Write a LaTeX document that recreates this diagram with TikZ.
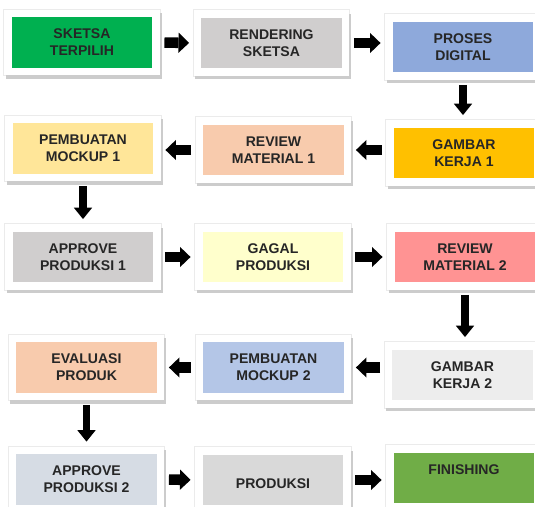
\documentclass[tikz,border=0pt]{standalone}
\usepackage{fontspec}
\setmainfont{Liberation Sans}
\usetikzlibrary{arrows.meta,positioning,backgrounds}
\definecolor{hijau}{HTML}{00B050}
\definecolor{abu}{HTML}{D0CECE}
\definecolor{biru}{HTML}{8EA9DB}
\definecolor{oranye}{HTML}{FFC000}
\definecolor{salem}{HTML}{F8CBAD}
\definecolor{kuning}{HTML}{FFE699}
\definecolor{krem}{HTML}{FFFFCC}
\definecolor{merah}{HTML}{FF9393}
\definecolor{abumuda}{HTML}{EDEDED}
\definecolor{birumuda}{HTML}{B4C6E7}
\definecolor{abubiru}{HTML}{D6DCE4}
\definecolor{abudua}{HTML}{D9D9D9}
\definecolor{hijaudua}{HTML}{70AD47}

\begin{document}
\begin{tikzpicture}[
		x=0.02cm, y=-0.02cm,
		font=\bfseries\fontsize{8}{9.6}\selectfont,
		kotak/.style={rectangle, align=center, text=black!85, inner sep=0pt,
			minimum width=2.96cm, minimum height=1.16cm,
			draw=white, line width=4.5pt},
		panah/.style={line width=6pt, -{Triangle[length=6pt,width=11.5pt,line width=0pt]}, shorten <=0.09cm, shorten >=0.09cm},
		panahv/.style={line width=4.5pt, -{Triangle[length=6.5pt,width=10.5pt,line width=0pt]}, shorten <=0.1cm, shorten >=0.1cm}
		]
		\useasboundingbox (0,0) rectangle (535,507);
		
		% baris 1
		\node[kotak, fill=hijau] (sketsa) at (82,42.5) {SKETSA\\TERPILIH};
		\node[kotak, fill=abu] (rendering) at (271.5,43) {RENDERING\\SKETSA};
		\node[kotak, fill=biru] (digital) at (463,47) {PROSES\\DIGITAL};
		
		% baris 2
		\node[kotak, fill=kuning] (mockup1) at (83,148.5) {PEMBUATAN\\MOCKUP 1};
		\node[kotak, fill=salem] (review1) at (273.5,150) {REVIEW\\MATERIAL 1};
		\node[kotak, fill=oranye] (kerja1) at (464,153) {GAMBAR\\KERJA 1};
		
		% baris 3
		\node[kotak, fill=abu] (approve1) at (83,257) {APPROVE\\PRODUKSI 1};
		\node[kotak, fill=krem] (gagal) at (273,257) {GAGAL\\PRODUKSI};
		\node[kotak, fill=merah] (review2) at (465,257) {REVIEW\\MATERIAL 2};
		
		% baris 4
		\node[kotak, fill=salem] (evaluasi) at (86.5,367.5) {EVALUASI\\PRODUK};
		\node[kotak, fill=birumuda] (mockup2) at (273.5,367.5) {PEMBUATAN\\MOCKUP 2};
		\node[kotak, fill=abumuda] (kerja2) at (462.5,375) {GAMBAR\\KERJA 2};
		
		% baris 5
		\node[kotak, fill=abubiru] (approve2) at (86.5,479.5) {APPROVE\\PRODUKSI 2};
		\node[kotak, fill=abudua] (produksi) at (273,480) {\mbox{}\\PRODUKSI};
		\node[kotak, fill=hijaudua] (finishing) at (464,478) {FINISHING\\\mbox{}};
		
		% bayangan bingkai
		\begin{scope}[on background layer]
		\foreach \n in {sketsa,rendering,digital,mockup1,review1,kerja1,approve1,gagal,review2,evaluasi,mockup2,kerja2,approve2,produksi,finishing}{
			\fill[black!8] ([shift={(-0.4pt,-0.4pt)}]\n.south west) rectangle ([shift={(0.4pt,0.4pt)}]\n.north east);
			\fill[black!20] ([shift={(1pt,-1.8pt)}]\n.south west) rectangle ([shift={(1.1pt,-2pt)}]\n.north east);
		}
		\end{scope}
		
		% panah
		\draw[panah] (sketsa.east) -- (rendering.west);
		\draw[panah] (rendering.east) -- (rendering.east -| digital.west);
		\draw[panahv] (digital.south) -- (digital.south |- kerja1.north);
		\draw[panah] (kerja1.west |- review1.east) -- (review1.east);
		\draw[panah] (review1.west) -- (review1.west -| mockup1.east);
		\draw[panahv] (mockup1.south) -- (mockup1.south |- approve1.north);
		\draw[panah] (approve1.east) -- (gagal.west);
		\draw[panah] (gagal.east) -- (review2.west);
		\draw[panahv] (review2.south) -- (review2.south |- kerja2.north);
		\draw[panah] (kerja2.west |- mockup2.east) -- (mockup2.east);
		\draw[panah] (mockup2.west) -- (evaluasi.east);
		\draw[panahv] (evaluasi.south) -- (evaluasi.south |- approve2.north);
		\draw[panah] (approve2.east) -- (produksi.west);
		\draw[panah] (produksi.east) -- (produksi.east -| finishing.west);
\end{tikzpicture}
\end{document}
